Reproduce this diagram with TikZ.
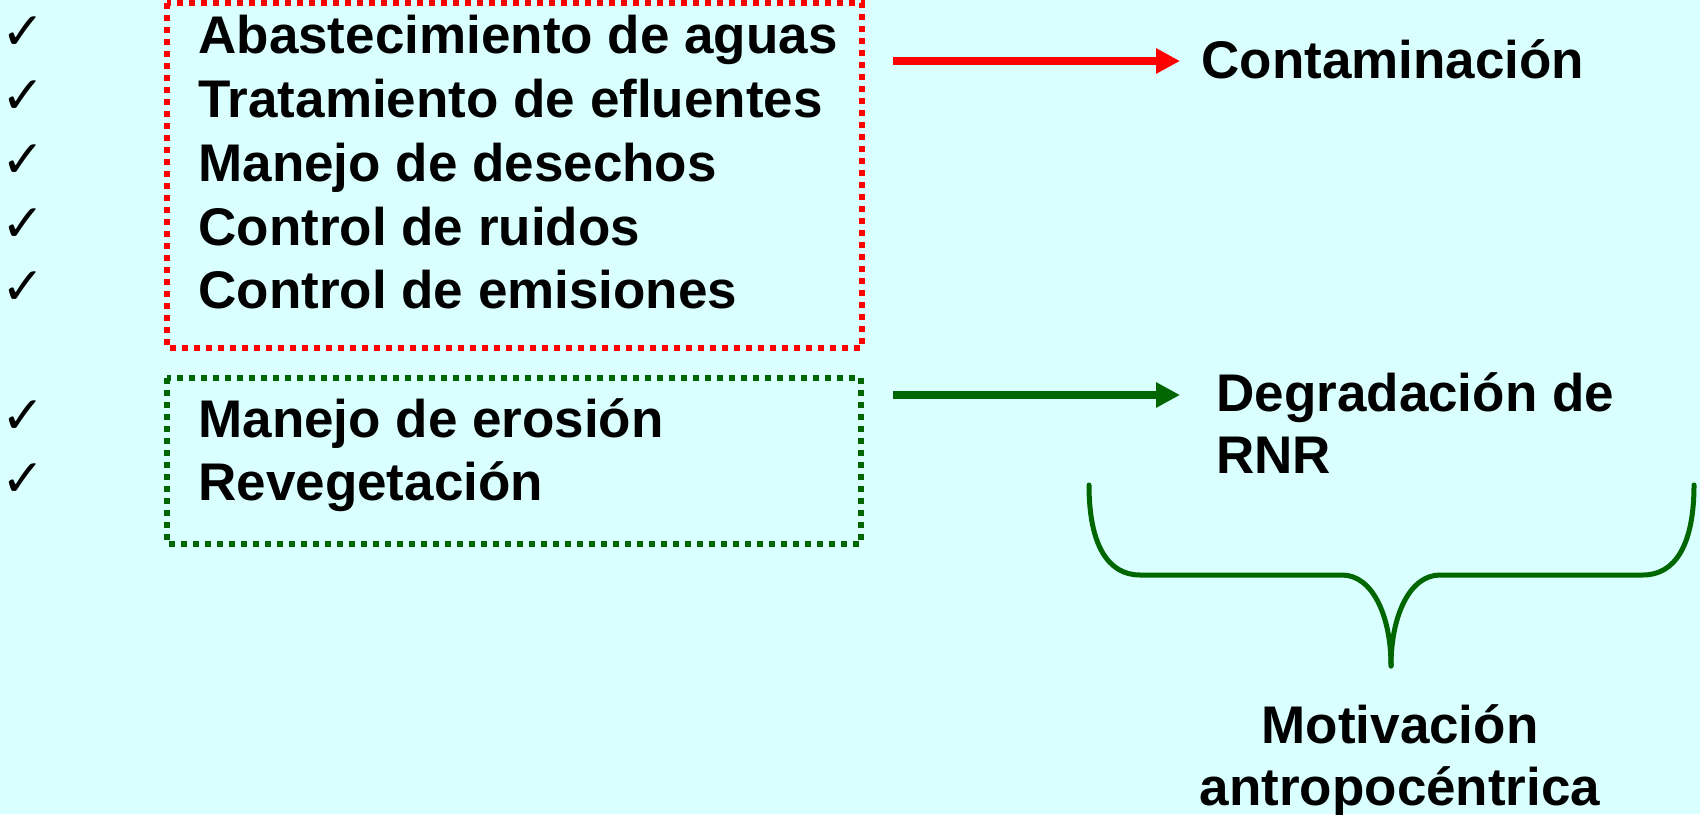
\documentclass[tikz,border=0pt]{standalone}
\usepackage{fontspec}
\setmainfont{Liberation Sans}
\newfontfamily\symfont{DejaVu Sans}
\usetikzlibrary{arrows.meta}
\definecolor{bgcyan}{RGB}{218,255,255}
\definecolor{dkgreen}{RGB}{0,102,0}
\definecolor{myred}{RGB}{255,0,0}
\tikzset{
  lbl/.style={anchor=base west,inner sep=0pt,font=\fontsize{26.5}{31}\selectfont\bfseries},
  clbl/.style={anchor=base,inner sep=0pt,font=\fontsize{26.5}{31}\selectfont\bfseries},
  tick/.style={anchor=center,inner sep=0pt,font=\symfont\fontsize{26}{26}\selectfont},
  dotbox/.style={line width=3pt,dash pattern=on 3pt off 3pt},
  bigarrow/.style={line width=4pt,-{Triangle[length=12pt,width=12pt]}},
  bracestyle/.style={draw=dkgreen,line width=2.5pt,line cap=round,line join=round}
}
\begin{document}
\begin{tikzpicture}[x=0.5pt,y=-0.5pt]
\fill[bgcyan] (0,0) rectangle (1700,814);
\useasboundingbox (0,0) rectangle (1700,814);
% boxes
\draw[dotbox,draw=myred] (167,3) rectangle (862,348);
\draw[dotbox,draw=dkgreen] (167,378) rectangle (861,544);
% checkmarks
\node[tick] (c1) at (23,33) {✓};
\node[tick] (c2) at (23,97) {✓};
\node[tick] (c3) at (23,161) {✓};
\node[tick] (c4) at (23,225) {✓};
\node[tick] (c5) at (23,288) {✓};
\node[tick] (c6) at (23,417) {✓};
\node[tick] (c7) at (23,480) {✓};
% list items
\node[lbl] (t1) at (198,53) {Abastecimiento de aguas};
\node[lbl] (t2) at (198,117) {Tratamiento de efluentes};
\node[lbl] (t3) at (198,181) {Manejo de desechos};
\node[lbl] (t4) at (198,245) {Control de ruidos};
\node[lbl] (t5) at (198,308) {Control de emisiones};
\node[lbl] (t6) at (198,437) {Manejo de erosión};
\node[lbl] (t7) at (198,500) {Revegetación};
% right labels
\node[lbl] (cont) at (1201,78) {Contaminación};
\node[lbl] (deg1) at (1216,411) {Degradación de};
\node[lbl] (deg2) at (1216,473) {RNR};
\node[clbl] (mot1) at (1400,743) {Motivación};
\node[clbl] (mot2) at (1400,805) {antropocéntrica};
% arrows
\coordinate (ra) at (893,61);
\coordinate (rb) at (1180,61);
\coordinate (ga) at (893,395);
\coordinate (gb) at (1180,395);
\draw[bigarrow,draw=myred,fill=myred] (ra) -- (rb);
\draw[bigarrow,draw=dkgreen,fill=dkgreen] (ga) -- (gb);
% brace
\coordinate (bl) at (1089,485);
\coordinate (br) at (1694,485);
\coordinate (btip) at (1391,666);
\draw[bracestyle] (bl) .. controls (1089,545) and (1108,575) .. (1140,575)
  -- (1342,575) .. controls (1372,575) and (1391,615) .. (btip);
\draw[bracestyle] (br) .. controls (1694,545) and (1675,575) .. (1643,575)
  -- (1440,575) .. controls (1410,575) and (1391,615) .. (btip);
\end{tikzpicture}
\end{document}
